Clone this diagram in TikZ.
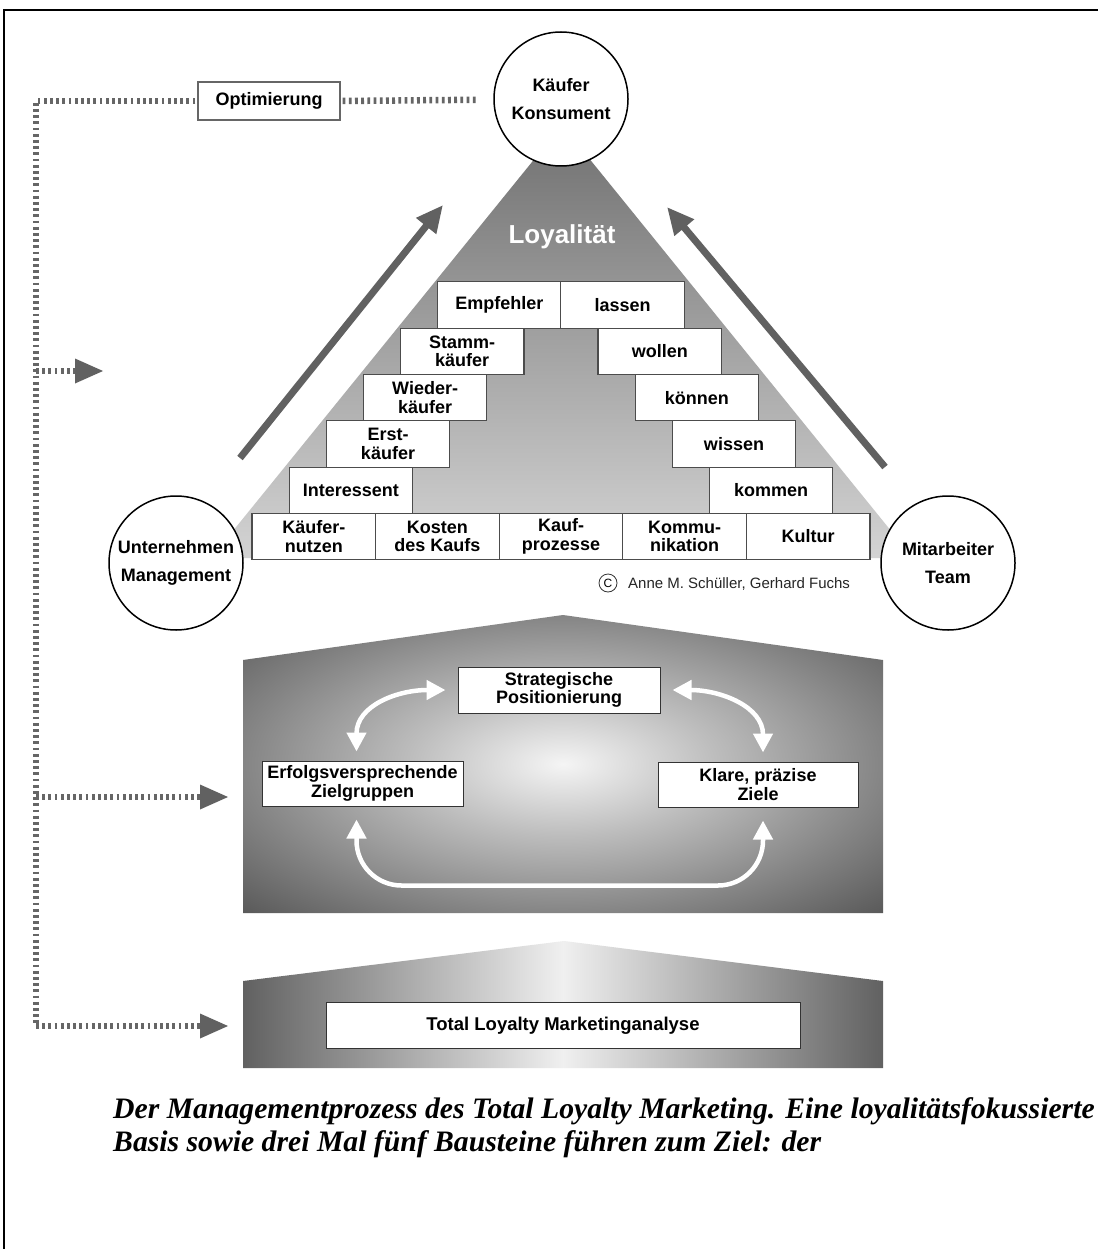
\documentclass[tikz,border=0pt]{standalone}
\usepackage{fontspec}
\setmainfont{Liberation Sans}
\newfontfamily\capfont{Liberation Serif}
\usetikzlibrary{arrows.meta,calc}
\pgfdeclareradialshading{houseglow}{\pgfpoint{0bp}{0bp}}{color(0bp)=(white!96!black); color(12bp)=(black!26); color(25bp)=(black!48); color(36bp)=(black!66); color(50bp)=(black!66)}
\begin{document}
\begin{tikzpicture}[x=1pt,y=-1pt,
  lbl/.style={font=\bfseries\fontsize{18}{18.7}\selectfont, align=center, text=black},
  brick/.style={lbl, draw=black!70, line width=1.1pt, fill=white, minimum width=123.6pt, minimum height=46.3pt, inner sep=0pt},
  actor/.style={circle, draw=black, line width=1.5pt, fill=white, minimum size=134pt, inner sep=0pt, font=\bfseries\fontsize{18}{28}\selectfont, align=center},
  hbox/.style={draw=black!80, line width=1pt, fill=white, inner sep=0pt, font=\bfseries\fontsize{18}{18.5}\selectfont, align=center},
  dotline/.style={draw=black!60, line width=6.5pt, dash pattern=on 2.8pt off 3.4pt},
  dothead/.style={fill=black!62},
  bigarrow/.style={draw=black!62, line width=7pt, -{Triangle[length=27pt,width=24pt]}},
  warrow/.style={draw=white, line width=4.5pt, {Triangle[length=19pt,width=19pt]}-{Triangle[length=19pt,width=19pt]}}
]
\useasboundingbox (0,0) rectangle (1098,1249);
\fill[white] (0,0) rectangle (1098,1249);
\draw[line width=2pt] (4,1249) -- (4,10) -- (1098,10);

% pyramid
\shade[top color=black!56, bottom color=black!17] (562,125) -- (211,558) -- (913,558) -- cycle;
\node[text=white, font=\bfseries\fontsize{26}{28}\selectfont] (loy) at (562,237) {Loyalität};

% big arrows
\coordinate (la1) at (240,458); \coordinate (la2) at (443,205);
\coordinate (ra1) at (885,467); \coordinate (ra2) at (667,207);
\draw[bigarrow] (la1) -- (la2);
\draw[bigarrow] (ra1) -- (ra2);

% bricks
\node[brick] (b0) at (313.8,536.5) {Käufer-\\nutzen};
\node[brick] (b1) at (437.4,536.5) {Kosten\\des Kaufs};
\node[brick] (b2) at (561.0,536.5) {Kauf-\\prozesse};
\node[brick] (b3) at (684.6,536.5) {Kommu-\\nikation};
\node[brick] (b4) at (808.2,536.5) {Kultur};
\node[brick] (l1) at (350.9,490.2) {Interessent};
\node[brick] (r1) at (771.1,490.2) {kommen};
\node[brick] (l2) at (388.0,443.9) {Erst-\\käufer};
\node[brick] (r2) at (734.0,443.9) {wissen};
\node[brick] (l3) at (425.1,397.6) {Wieder-\\käufer};
\node[brick] (r3) at (696.9,397.6) {können};
\node[brick] (l4) at (462.2,351.3) {Stamm-\\käufer};
\node[brick] (r4) at (659.8,351.3) {wollen};
\node[brick] (l5) at (499.3,305.0) {Empfehler};
\node[brick] (r5) at (622.7,305.0) {lassen};

% actors
\node[actor] (kc) at (561,99) {Käufer\\Konsument};
\node[actor] (um) at (176,563) {Unternehmen\\Management};
\node[actor] (mt) at (948,563) {Mitarbeiter\\Team};

% copyright
\node[circle, draw=black!80, line width=0.8pt, minimum size=18pt, inner sep=0pt, font=\fontsize{12}{12}\selectfont] (cp) at (608,583) {C};
\node[anchor=west, font=\fontsize{15}{16}\selectfont, text=black!85, inner sep=0pt] (cpt) at (628,584) {Anne M. Schüller, Gerhard Fuchs};

% houses
\shade[shading=houseglow] (243,913) -- (243,660) -- (563,615) -- (883,660) -- (883,913) -- cycle;
\shade[left color=black!62, right color=black!62, middle color=white!94!black] (243,1068) -- (243,981) -- (564,941) -- (883,981) -- (883,1068) -- cycle;

\node[hbox, minimum width=202pt, minimum height=46pt] (strat) at (559,690) {Strategische\\Positionierung};
\node[hbox, minimum width=201pt, minimum height=45pt] (erf) at (362.5,783.5) {Erfolgsversprechende\\Zielgruppen};
\node[hbox, minimum width=200pt, minimum height=45pt] (klare) at (758,784.5) {Klare, präzise\\Ziele};
\node[hbox, minimum width=474pt, minimum height=46pt, font=\bfseries\fontsize{18.5}{19}\selectfont] (tlm) at (563,1025.5) {Total Loyalty Marketinganalyse};

\draw[warrow, shorten <=9pt, shorten >=12pt] ([xshift=-6pt]erf.north) .. controls +(0,-55) and +(-60,0) .. (strat.west);
\draw[warrow, shorten <=12pt, shorten >=9pt] (strat.east) .. controls +(60,0) and +(0,-55) .. ([xshift=5pt]klare.north);
\draw[warrow, rounded corners=45pt, shorten <=13pt, shorten >=13pt] ([xshift=-6pt]erf.south) -- ++(0,79) -| ([xshift=5pt]klare.south);

% optimisation loop
\node[draw=black!60, line width=1.2pt, fill=white, minimum width=142pt, minimum height=38pt, inner sep=0pt, font=\bfseries\fontsize{18}{20}\selectfont] (opt) at (269,101) {Optimierung};
\coordinate (c0) at (36,101);
\coordinate (c1) at (36,371);
\coordinate (c2) at (36,797);
\coordinate (c3) at (36,1026);
\coordinate (h1) at (75,371);
\coordinate (h2) at (200,797);
\coordinate (h3) at (200,1026);
\draw[dotline, shorten <=2pt, shorten >=17pt] (opt.east) -- (kc);
\draw[dotline, shorten <=2pt] (opt.west) -- (c0) -- (c3);
\draw[dotline] (c1) -- (h1);
\draw[dotline] (c2) -- (h2);
\draw[dotline] (c3) -- (h3);
\fill[dothead] (h1) -- ++(0,-12.5) -- ++(28,12.5) -- ++(-28,12.5) -- cycle;
\fill[dothead] (h2) -- ++(0,-12.5) -- ++(28,12.5) -- ++(-28,12.5) -- cycle;
\fill[dothead] (h3) -- ++(0,-12.5) -- ++(28,12.5) -- ++(-28,12.5) -- cycle;

% caption
\node[anchor=base west, inner sep=0pt, font=\capfont\bfseries\itshape\fontsize{29.7}{33}\selectfont] (cap1) at (113,1118) {Der Managementprozess des Total Loyalty Marketing. Eine loyalitätsfokussierte};
\node[anchor=base west, inner sep=0pt, font=\capfont\bfseries\itshape\fontsize{29.7}{33}\selectfont] (cap2) at (113,1151) {Basis sowie drei Mal fünf Bausteine führen zum Ziel: der};
\end{tikzpicture}
\end{document}
